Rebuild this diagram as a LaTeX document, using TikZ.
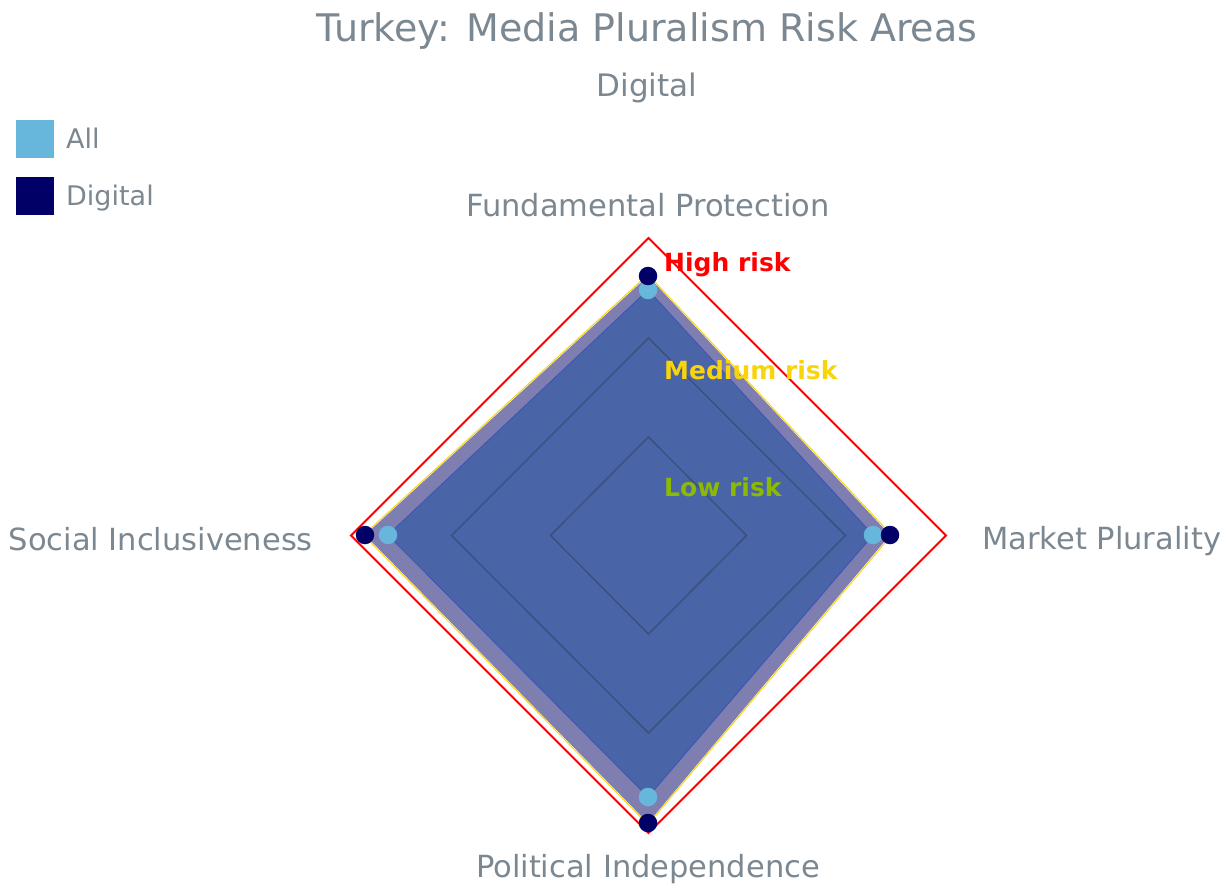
\documentclass[tikz,border=0pt]{standalone}
\usepackage{fontspec}
\setmainfont{DejaVu Sans}
\definecolor{labelgray}{RGB}{123,135,145}
\definecolor{allblue}{RGB}{103,183,220}
\definecolor{digitalnavy}{RGB}{0,0,102}
\definecolor{bandfill}{RGB}{127,126,176}
\definecolor{innerfill}{RGB}{74,101,167}
\definecolor{gridline}{RGB}{58,82,128}
\definecolor{medgold}{RGB}{250,212,10}
\definecolor{lowgreen}{RGB}{140,186,0}
\tikzset{
    axislabel/.style={font=\fontsize{30.5}{30.5}\selectfont, text=labelgray, anchor=base, inner sep=0pt},
    risklabel/.style={font=\bfseries\fontsize{25}{25}\selectfont, anchor=base west, inner sep=0pt},
    legendbox/.style={minimum size=38pt, inner sep=0pt, draw=none},
    legendtext/.style={font=\fontsize{27}{27}\selectfont, text=labelgray, anchor=base west, inner sep=0pt},
    marker/.style={circle, minimum size=18.5pt, inner sep=0pt},
}

\begin{document}
\begin{tikzpicture}[x=1pt,y=-1pt]
    \useasboundingbox (0,0) rectangle (1227,888);
    \coordinate (C) at (648.5,535.5);

    % Polygon corners: Digital and All
    \coordinate (D1) at (648,276);
    \coordinate (D2) at (890,535);
    \coordinate (D3) at (648,823);
    \coordinate (D4) at (365,535);
    \coordinate (A1) at (648,290);
    \coordinate (A2) at (873,535);
    \coordinate (A3) at (648,797);
    \coordinate (A4) at (388,535);

    % Filled areas
    \fill[bandfill] (D1) -- (D2) -- (D3) -- (D4) -- cycle;
    \filldraw[fill=innerfill, draw=innerfill!85!blue, line width=1pt] (A1) -- (A2) -- (A3) -- (A4) -- cycle;

    % Grid at 33 and 66
    \draw[gridline, line width=1.5pt] (648.5,437) -- (746.5,535.5) -- (648.5,634) -- (550.5,535.5) -- cycle;
    \draw[gridline, line width=1.5pt] (648.5,338) -- (845.5,535.5) -- (648.5,733) -- (451.5,535.5) -- cycle;

    % Digital outline
    \draw[medgold, line width=1pt] ([shift={(0,-1.5)}]D1) -- ([shift={(1.5,0)}]D2) -- ([shift={(0,1.5)}]D3) -- ([shift={(-1.5,0)}]D4) -- cycle;

    % High risk boundary
    \coordinate (R1) at (648.5,238);
    \coordinate (R2) at (946,535.5);
    \coordinate (R3) at (648.5,833);
    \coordinate (R4) at (351,535.5);
    \draw[red, line width=2pt] (R1) -- (R2) -- (R3) -- (R4) -- cycle;

    % Markers
    \foreach \p in {A1,A2,A3,A4}
        \node[marker, fill=allblue] (m\p) at (\p) {};
    \foreach \p in {D1,D2,D3,D4}
        \node[marker, fill=digitalnavy] (m\p) at (\p) {};

    % Risk labels
    \node[risklabel, text=red] (high) at (664,271) {High risk};
    \node[risklabel, text=medgold] (medium) at (664,379) {Medium risk};
    \node[risklabel, text=lowgreen] (low) at (664,496) {Low risk};

    % Axis labels
    \node[axislabel] (fund) at (648,216) {Fundamental Protection};
    \node[axislabel, anchor=base west] (market) at (982,549) {Market Plurality};
    \node[axislabel] (political) at (648,877) {Political Independence};
    \node[axislabel, anchor=base east] (social) at (313,550) {Social Inclusiveness};

    % Titles
    \node[axislabel, font=\fontsize{38}{38}\selectfont] (title) at (647,42) {Turkey: Media Pluralism Risk Areas};
    \node[axislabel, font=\fontsize{31}{31}\selectfont] (subtitle) at (647,97) {Digital};

    % Legend
    \node[legendbox, fill=allblue, anchor=north west] (keyall) at (16,120) {};
    \node[legendbox, fill=digitalnavy, anchor=north west] (keydigital) at (16,177) {};
    \node[legendtext] (txtall) at (66,149) {All};
    \node[legendtext] (txtdigital) at (66,205) {Digital};
\end{tikzpicture}
\end{document}
